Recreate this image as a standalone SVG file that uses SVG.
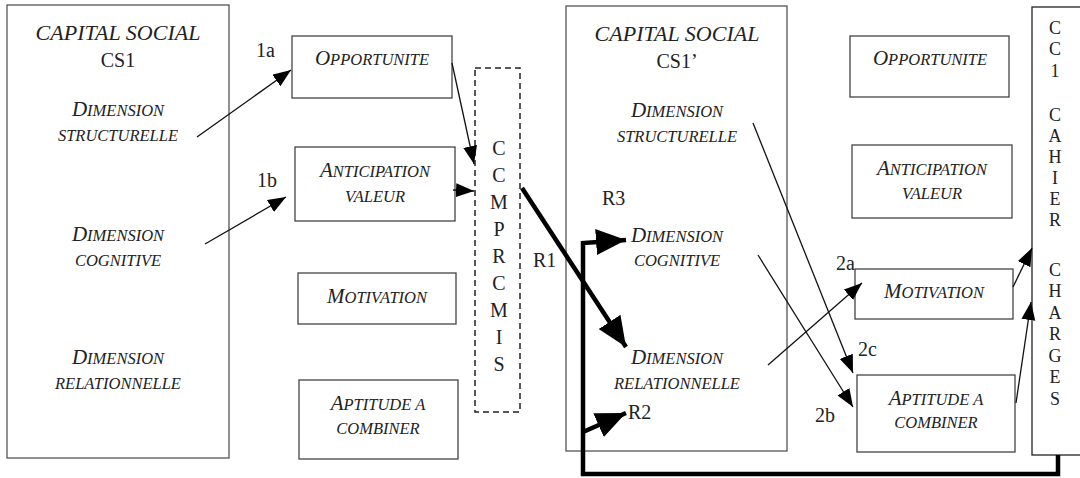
<svg xmlns="http://www.w3.org/2000/svg" width="1080" height="478" viewBox="0 0 1080 478">
<style>
.box{fill:none;stroke:#555;stroke-width:1.3}
.ibox{fill:#fff;stroke:#444;stroke-width:1.3}
.dash{fill:none;stroke:#222;stroke-width:1.5;stroke-dasharray:6,4}
.it{font-family:"Liberation Serif","Times New Roman",serif;font-style:italic;font-size:16.5px;fill:#222;text-anchor:middle}
.L{font-size:21px}
.big{font-size:22px}
.rm{font-family:"Liberation Serif","Times New Roman",serif;font-size:20px;fill:#222}
.col{font-family:"Liberation Serif","Times New Roman",serif;font-size:20px;fill:#222;text-anchor:middle}
.col2{font-family:"Liberation Serif","Times New Roman",serif;font-size:18px;fill:#222;text-anchor:middle}
.thin{fill:none;stroke:#111;stroke-width:1.3;marker-end:url(#ah)}
.thick{fill:none;stroke:#000;stroke-width:4.5;marker-end:url(#AH)}
</style>
<defs>
<marker id="ah" markerUnits="userSpaceOnUse" markerWidth="19" markerHeight="15" refX="18" refY="7" orient="auto"><path d="M0,0 L18,7 L0,14 z" fill="#000"/></marker>
<marker id="AH" markerUnits="userSpaceOnUse" markerWidth="31" markerHeight="27" refX="30" refY="13" orient="auto"><path d="M0,0 L30,13 L0,26 z" fill="#000"/></marker>
</defs>
<rect width="1080" height="478" fill="#fff"/>

<g id="cs1">
<rect class="box" x="7" y="5" width="222" height="453"/>
<text class="it big" x="118" y="40">CAPITAL SOCIAL</text>
<text class="rm" x="118" y="67" text-anchor="middle" font-size="22">CS1</text>
<text class="it" x="118" y="116"><tspan class="L">D</tspan>IMENSION</text>
<text class="it" x="118" y="141">STRUCTURELLE</text>
<text class="it" x="118" y="241"><tspan class="L">D</tspan>IMENSION</text>
<text class="it" x="118" y="266">COGNITIVE</text>
<text class="it" x="118" y="364"><tspan class="L">D</tspan>IMENSION</text>
<text class="it" x="118" y="389">RELATIONNELLE</text>
</g>

<g id="opp1">
<rect class="ibox" x="292" y="36" width="160" height="62"/>
<text class="it" x="372" y="65"><tspan class="L">O</tspan>PPORTUNITE</text>
</g>
<g id="ant1">
<rect class="ibox" x="295" y="147" width="160" height="74"/>
<text class="it" x="375" y="177"><tspan class="L">A</tspan>NTICIPATION</text>
<text class="it" x="375" y="202">VALEUR</text>
</g>
<g id="mot1">
<rect class="ibox" x="298" y="273" width="158" height="51"/>
<text class="it" x="377" y="303"><tspan class="L">M</tspan>OTIVATION</text>
</g>
<g id="apt1">
<rect class="ibox" x="299" y="380" width="159" height="79"/>
<text class="it" x="378" y="410"><tspan class="L">A</tspan>PTITUDE A</text>
<text class="it" x="378" y="434">COMBINER</text>
</g>

<g id="compromis">
<rect class="dash" x="475" y="68" width="45" height="344"/>
<text class="col" x="499" y="155">C</text>
<text class="col" x="499" y="182">C</text>
<text class="col" x="499" y="209">M</text>
<text class="col" x="499" y="236">P</text>
<text class="col" x="499" y="263">R</text>
<text class="col" x="499" y="290">C</text>
<text class="col" x="499" y="317">M</text>
<text class="col" x="499" y="344">I</text>
<text class="col" x="499" y="371">S</text>
</g>

<g id="cs1p">
<rect class="box" x="566" y="6" width="221" height="445"/>
<text class="it big" x="677" y="41">CAPITAL SOCIAL</text>
<text class="rm" x="677" y="68" text-anchor="middle" font-size="22">CS1’</text>
<text class="it" x="677" y="117"><tspan class="L">D</tspan>IMENSION</text>
<text class="it" x="677" y="142">STRUCTURELLE</text>
<text class="it" x="677" y="242"><tspan class="L">D</tspan>IMENSION</text>
<text class="it" x="677" y="266">COGNITIVE</text>
<text class="it" x="677" y="364"><tspan class="L">D</tspan>IMENSION</text>
<text class="it" x="677" y="389">RELATIONNELLE</text>
</g>

<g id="opp2">
<rect class="ibox" x="850" y="36" width="159" height="61"/>
<text class="it" x="930" y="65"><tspan class="L">O</tspan>PPORTUNITE</text>
</g>
<g id="ant2">
<rect class="ibox" x="852" y="145" width="160" height="73"/>
<text class="it" x="932" y="175"><tspan class="L">A</tspan>NTICIPATION</text>
<text class="it" x="932" y="199">VALEUR</text>
</g>
<g id="mot2">
<rect class="ibox" x="855" y="269" width="158" height="50"/>
<text class="it" x="934" y="298"><tspan class="L">M</tspan>OTIVATION</text>
</g>
<g id="apt2">
<rect class="ibox" x="857" y="375" width="158" height="77"/>
<text class="it" x="936" y="405"><tspan class="L">A</tspan>PTITUDE A</text>
<text class="it" x="936" y="428">COMBINER</text>
</g>

<g id="cc1">
<rect class="box" x="1032" y="7" width="60" height="448" style="stroke:#222"/>
<text class="col2" x="1055" y="34">C</text>
<text class="col2" x="1055" y="55">C</text>
<text class="col2" x="1055" y="77">1</text>
<text class="col2" x="1055" y="121">C</text>
<text class="col2" x="1055" y="142">A</text>
<text class="col2" x="1055" y="163">H</text>
<text class="col2" x="1055" y="184">I</text>
<text class="col2" x="1055" y="205">E</text>
<text class="col2" x="1055" y="226">R</text>
<text class="col2" x="1055" y="276">C</text>
<text class="col2" x="1055" y="297">H</text>
<text class="col2" x="1055" y="319">A</text>
<text class="col2" x="1055" y="340">R</text>
<text class="col2" x="1055" y="362">G</text>
<text class="col2" x="1055" y="383">E</text>
<text class="col2" x="1055" y="405">S</text>
</g>

<g id="connectors">
<line class="thin" x1="197" y1="137" x2="291" y2="70"/>
<line class="thin" x1="205" y1="244" x2="286" y2="197"/>
<line class="thin" x1="452" y1="63" x2="474" y2="164"/>
<line class="thin" x1="453" y1="190" x2="474" y2="191"/>
<line class="thin" x1="753" y1="123" x2="853" y2="373"/>
<line class="thin" x1="758" y1="255" x2="853" y2="407"/>
<line class="thin" x1="768" y1="365" x2="862" y2="283"/>
<line class="thin" x1="1013" y1="287" x2="1032" y2="248"/>
<line class="thin" x1="1016" y1="403" x2="1031" y2="302"/>
<line class="thick" x1="522" y1="188" x2="626" y2="347"/>
<path class="thick" d="M1058,455 V474 H583 V243 L626,240"/>
<line class="thick" x1="583" y1="432" x2="626" y2="413"/>
<text class="rm" x="256" y="57">1a</text>
<text class="rm" x="257" y="187">1b</text>
<text class="rm" x="602" y="205">R3</text>
<text class="rm" x="533" y="267">R1</text>
<text class="rm" x="628" y="419">R2</text>
<text class="rm" x="836" y="270">2a</text>
<text class="rm" x="858" y="356">2c</text>
<text class="rm" x="815" y="422">2b</text>
</g>
</svg>
